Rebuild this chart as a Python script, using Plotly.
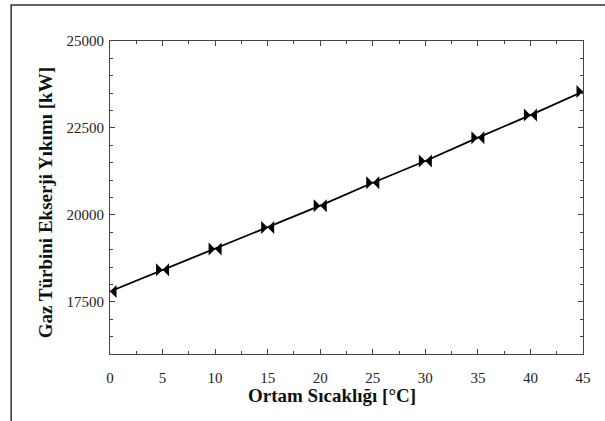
import plotly.graph_objects as go

# Data
temperature_c = [0, 5, 10, 15, 20, 25, 30, 35, 40, 45]
exergy_destruction_kw = [17800, 18420, 19020, 19640, 20265, 20925, 21550, 22220, 22870, 23545]

x_ticks = [0, 5, 10, 15, 20, 25, 30, 35, 40, 45]
y_ticks = [17500, 20000, 22500, 25000]
y_tick_labels = ["17500", "20000", "22500", "25000"]

x_title = "<b>Ortam Sıcaklığı [°C]</b>"
y_title = "<b>Gaz Türbini Ekserji Yıkımı [kW]</b>"

FONT = "Liberation Serif, Times New Roman, serif"
AX = "#444444"

fig = go.Figure()
fig.add_trace(go.Scatter(
    x=temperature_c, y=exergy_destruction_kw,
    mode="lines+markers",
    line=dict(color="black", width=1.8),
    marker=dict(symbol="bowtie", size=13, color="black"),
    cliponaxis=True,
    showlegend=False,
))

fig.update_layout(
    width=605, height=421,
    margin=dict(l=110, r=22, t=41, b=67),
    paper_bgcolor="white", plot_bgcolor="white",
    font=dict(family=FONT, color="#222222", size=15),
    xaxis=dict(
        range=[0, 45], tickvals=x_ticks,
        ticks="inside", ticklen=5, tickwidth=1, tickcolor=AX,
        minor=dict(dtick=2.5, ticks="inside", ticklen=3, tickcolor=AX),
        showline=True, linecolor=AX, linewidth=1, mirror="ticks",
        showgrid=False, zeroline=False,
        ticklabelstandoff=10,
        tickfont=dict(family=FONT, size=15, color="#222222"),
    ),
    yaxis=dict(
        range=[16000, 25000], tickvals=y_ticks, ticktext=y_tick_labels,
        ticks="inside", ticklen=5, tickwidth=1, tickcolor=AX,
        minor=dict(dtick=500, ticks="inside", ticklen=3, tickcolor=AX),
        showline=True, linecolor=AX, linewidth=1, mirror="ticks",
        showgrid=False, zeroline=False,
        ticklabelstandoff=2,
        tickfont=dict(family=FONT, size=15, color="#222222"),
    ),
    annotations=[
        dict(text=x_title, xref="paper", yref="paper", x=0.469, y=-0.131,
             xanchor="center", yanchor="middle", showarrow=False,
             font=dict(family=FONT, size=19, color="#111111")),
        dict(text=y_title, xref="paper", yref="paper", x=-0.137, y=0.482,
             xanchor="center", yanchor="middle", showarrow=False, textangle=-90,
             font=dict(family=FONT, size=19, color="#111111")),
    ],
    shapes=[dict(
        type="rect", xref="paper", yref="paper",
        x0=-0.209, x1=1.4, y0=-0.4, y1=1.115,
        line=dict(color="#333333", width=1.5), fillcolor="rgba(0,0,0,0)",
        layer="below",
    )],
)

fig.write_html("out.html")
